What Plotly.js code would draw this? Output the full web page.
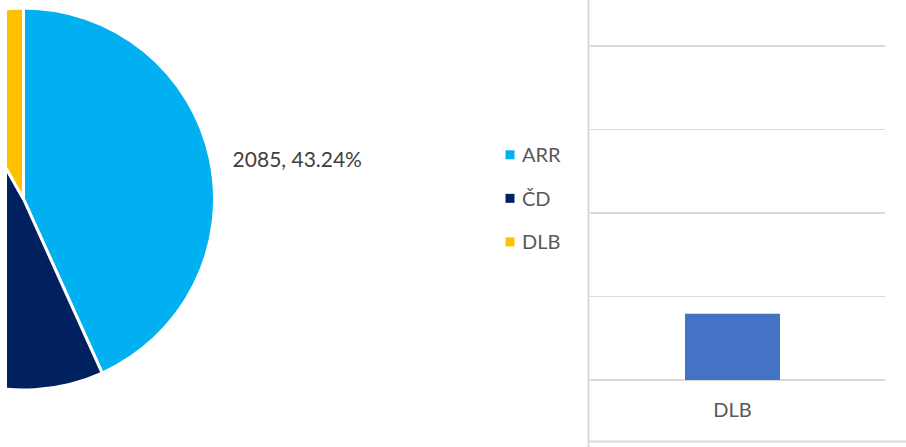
<!DOCTYPE html>
<html><head><meta charset="utf-8">
<script src="https://cdn.plot.ly/plotly-3.0.1.min.js"></script>
<style>
html,body{margin:0;padding:0;width:906px;height:447px;overflow:hidden;background:#fff;}
#clip{position:absolute;left:7px;top:0;width:899px;height:447px;overflow:hidden;}
#chart{position:absolute;left:-207px;top:0;width:1106px;height:447px;}
</style></head><body>
<div id="clip"><div id="chart"></div></div>
<script>
// ---- data ----
const pieLabels = ['ARR', 'ČD', 'DLB'];
const pieValues = [2085, 2341, 396];
const pieColors = ['#00B0F0', '#002060', '#FFC000'];
// only the ARR data label is visible in the (cropped) original
const pieLabelShown = [true, false, false];

const barCategories = ['DLB'];
const barValues = [396];
const barColor = '#4472C4';

// ---- layout (canvas extends 200px left of the visible window, pie is cut off as in the original) ----
const W = 1106, H = 447;
const px = v => v / W;
const py = v => 1 - v / H;

const FONT = 'Lato, "Open Sans", sans-serif';
const PAD = '\u00a0\u00a0\u00a0';

const pie = {
  type: 'pie',
  labels: pieLabels.map(l => '<span style="font-size:20px;baseline-shift:5px">' + l + '</span>'),
  values: pieValues,
  sort: false,
  direction: 'clockwise',
  rotation: 0,
  marker: {colors: pieColors, line: {color: '#ffffff', width: 3}},
  textposition: 'outside',
  texttemplate: pieLabelShown.map(s => s ? '<span style="baseline-shift:4px">' + PAD + '%{value:d}, %{percent:.2%}</span>' : ''),
  textfont: {family: FONT, size: 21, color: '#404040'},
  domain: {x: [px(32.5), px(414.5)], y: [py(390), py(8)]},
  hoverinfo: 'none'
};

const bar = {
  type: 'bar',
  x: barCategories,
  y: barValues,
  marker: {color: barColor},
  showlegend: false,
  hoverinfo: 'x+y'
};

const layout = {
  width: W, height: H,
  margin: {l: 0, r: 0, t: 0, b: 0, pad: 0},
  paper_bgcolor: '#ffffff',
  plot_bgcolor: '#ffffff',
  font: {family: FONT, color: '#595959'},
  showlegend: true,
  legend: {
    x: px(682), y: py(128), xanchor: 'left', yanchor: 'top',
    font: {family: FONT, size: 31.2, color: '#595959'},
    bgcolor: 'rgba(0,0,0,0)', borderwidth: 0
  },
  bargap: 0.678,
  xaxis: {
    domain: [px(790), px(1085)],
    range: [-0.483, 0.517],
    type: 'category',
    showgrid: false, zeroline: false, showline: false,
    ticks: 'outside', ticklen: 12, tickcolor: 'rgba(0,0,0,0)',
    tickfont: {family: FONT, size: 20, color: '#595959'},
    fixedrange: true
  },
  yaxis: {
    domain: [py(380), 1],
    range: [0, 2275],
    dtick: 500, tick0: 0,
    showgrid: true, gridcolor: '#d9d9d9', gridwidth: 1.4,
    zeroline: true, zerolinecolor: '#d9d9d9', zerolinewidth: 1.4,
    showticklabels: false, ticks: '', showline: false,
    fixedrange: true
  },
  shapes: [
    {type: 'line', xref: 'paper', yref: 'paper', x0: px(788.5), x1: px(788.5), y0: 0, y1: 1,
     line: {color: '#d9d9d9', width: 2}},
    {type: 'line', xref: 'paper', yref: 'paper', x0: px(788.5), x1: 1, y0: py(441.5), y1: py(441.5),
     line: {color: '#d9d9d9', width: 2}}
  ]
};

Plotly.newPlot('chart', [pie, bar], layout, {displayModeBar: false, staticPlot: true}).then(gd => {
  // smaller legend squares, closer to the label text (as in the original)
  gd.querySelectorAll('.legendpie').forEach(p => {
    p.setAttribute('d', 'M12.5,4.5H3.5V-4.5H12.5Z');
    p.style.strokeWidth = '0';
  });
});
</script>
</body></html>
